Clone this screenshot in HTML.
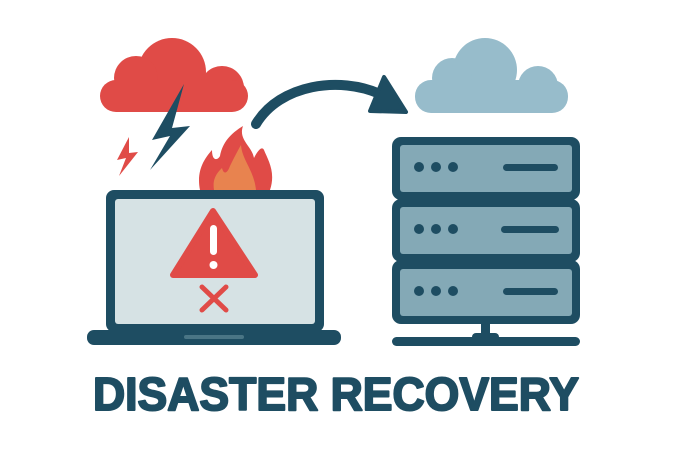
<!DOCTYPE html>
<html><head><style>html,body{margin:0;padding:0;background:#fff;width:677px;height:451px;overflow:hidden}</style></head>
<body>
<svg width="677" height="451" viewBox="0 0 677 451" xmlns="http://www.w3.org/2000/svg">
<g fill="#e04b47">
<circle cx="172" cy="72" r="34"/>
<circle cx="136" cy="78" r="22"/>
<circle cx="222" cy="88" r="22"/>
<rect x="100" y="80" width="148" height="32" rx="16"/>
</g>
<polygon points="184,84 152,140 170,136 150,170 190,126 172,128 " fill="#1e4d62"/>
<polygon points="129,137 117,160 126,158 119,176 138,152 129,153" fill="#e04b47"/>
<path d="M200,190 C196,170 205,158 212,150 C212,162 218,160 220,156 C222,145 228,135 243,126 C238,140 252,146 254,158 C258,150 262,146 264,150 C268,160 276,172 270,190 Z" fill="#e04b47"/>
<path d="M214,190 C212,178 218,172 222,168 C224,176 228,172 230,166 C234,158 238,150 241,145 C242,160 254,170 256,190 Z" fill="#e8834f"/>
<path d="M256,124 C280,84 340,76 380,94" fill="none" stroke="#1e4d62" stroke-width="10" stroke-linecap="round"/>
<polygon points="384,77 406,112 370,111" fill="#1e4d62" stroke="#1e4d62" stroke-width="4" stroke-linejoin="round"/>
<g fill="#97bccb">
<circle cx="485" cy="70" r="32"/>
<circle cx="452" cy="78" r="20"/>
<circle cx="538" cy="86" r="20"/>
<rect x="415" y="80" width="153" height="33" rx="16"/>
</g>
<rect x="106" y="190" width="218" height="142" rx="8" fill="#1e4d62"/>
<rect x="115" y="199" width="200" height="125" rx="3" fill="#d6e2e4"/>
<rect x="87" y="330" width="254" height="15" rx="7" fill="#1e4d62"/>
<rect x="184" y="335" width="60" height="4" rx="2" fill="#4a7585"/>
<path d="M213,211 L255,275 L173,275 Z" fill="#e04b47" stroke="#e04b47" stroke-width="6" stroke-linejoin="round"/>
<rect x="210" y="225" width="7" height="30" rx="3.5" fill="#fff"/>
<circle cx="213.5" cy="265" r="4" fill="#fff"/>
<path d="M202,287 L226,310 M226,287 L202,310" stroke="#e04b47" stroke-width="5" stroke-linecap="round"/>
<g>
<rect x="392" y="137" width="188" height="63" rx="9" fill="#1e4d62"/>
<rect x="400" y="145" width="172" height="47" rx="3" fill="#84a9b6"/>
<rect x="392" y="199" width="188" height="63" rx="9" fill="#1e4d62"/>
<rect x="400" y="207" width="172" height="47" rx="3" fill="#84a9b6"/>
<rect x="392" y="260" width="188" height="64" rx="9" fill="#1e4d62"/>
<rect x="400" y="269" width="172" height="47" rx="3" fill="#84a9b6"/>
<g fill="#1e4d62">
<circle cx="419" cy="167" r="5"/><circle cx="436" cy="167" r="5"/><circle cx="453" cy="167" r="5"/>
<rect x="503" y="164" width="55" height="7" rx="3.5"/>
<circle cx="419" cy="229" r="5"/><circle cx="436" cy="229" r="5"/><circle cx="453" cy="229" r="5"/>
<rect x="501" y="226" width="58" height="7" rx="3.5"/>
<circle cx="419" cy="291" r="5"/><circle cx="436" cy="291" r="5"/><circle cx="453" cy="291" r="5"/>
<rect x="503" y="288" width="55" height="7" rx="3.5"/>
<rect x="481" y="322" width="9" height="16"/>
<rect x="472" y="333" width="27" height="8" rx="4"/>
<rect x="392" y="337" width="188" height="9" rx="4.5"/>
</g>
</g>
<text x="93" y="410" textLength="486" lengthAdjust="spacingAndGlyphs" font-family="Liberation Sans, sans-serif" font-weight="bold" font-size="46" fill="#1e4d62" stroke="#1e4d62" stroke-width="2" stroke-linejoin="round">DISASTER RECOVERY</text>
</svg>
</body></html>
